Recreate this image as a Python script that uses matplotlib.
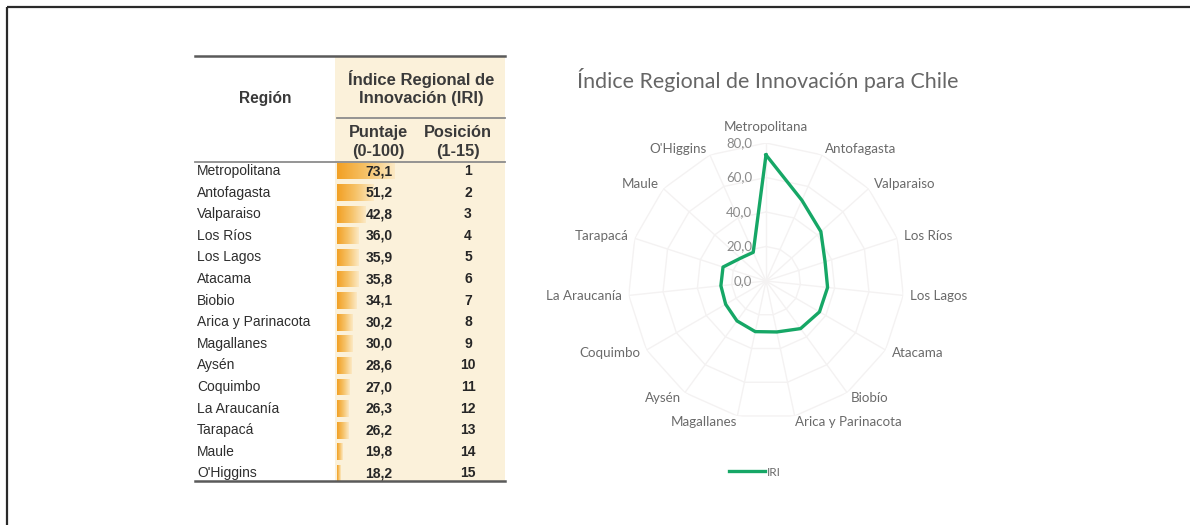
import numpy as np
import matplotlib
matplotlib.use("Agg")
import matplotlib.pyplot as plt
from matplotlib.transforms import ScaledTranslation
from matplotlib.colors import LinearSegmentedColormap

# ---------------- data ----------------
table_regions = ["Metropolitana", "Antofagasta", "Valparaiso", "Los Ríos", "Los Lagos",
                 "Atacama", "Biobio", "Arica y Parinacota", "Magallanes", "Aysén",
                 "Coquimbo", "La Araucanía", "Tarapacá", "Maule", "O'Higgins"]
chart_regions = ["Metropolitana", "Antofagasta", "Valparaiso", "Los Ríos", "Los Lagos",
                 "Atacama", "Biobío", "Arica y Parinacota", "Magallanes", "Aysén",
                 "Coquimbo", "La Araucanía", "Tarapacá", "Maule", "O'Higgins"]
puntaje = [73.1, 51.2, 42.8, 36.0, 35.9, 35.8, 34.1, 30.2, 30.0, 28.6, 27.0, 26.3, 26.2, 19.8, 18.2]
posicion = [1, 2, 3, 4, 5, 6, 7, 8, 9, 10, 11, 12, 13, 14, 15]
radial_ticks = [0, 20, 40, 60, 80]
radial_tick_labels = ["0,0", "20,0", "40,0", "60,0", "80,0"]
chart_title = "Índice Regional de Innovación para Chile"
series_name = "IRI"
hdr_region = "Región"
hdr_iri = "Índice Regional de\nInnovación (IRI)"
hdr_puntaje = "Puntaje\n(0-100)"
hdr_posicion = "Posición\n(1-15)"

W, H = 1190, 525
fig = plt.figure(figsize=(W / 100, H / 100), dpi=100)
fig.patch.set_facecolor("white")

# ---------------- table (pixel coordinate axes) ----------------
tax = fig.add_axes([0, 0, 1, 1])
tax.set_xlim(0, W)
tax.set_ylim(H, 0)
tax.axis("off")
tax.set_zorder(0)

# outer frame (top and left edges)
tax.plot([7, W], [7, 7], color="#2a2a2a", lw=1.6, solid_capstyle="butt")
tax.plot([7, 7], [7, H], color="#2a2a2a", lw=1.6, solid_capstyle="butt")

tab_l, tab_r = 195, 505
col_l = 335
cream = "#FBF1DA"
tax.add_patch(plt.Rectangle((col_l, 57), tab_r - col_l, 481 - 57, color=cream, lw=0, zorder=0))

# header lines
tax.plot([tab_l, tab_r], [56, 56], color="#5a5a5a", lw=1.8, zorder=3)
tax.plot([337, tab_r], [118, 118], color="#8c8c8c", lw=1.3, zorder=3)
tax.plot([tab_l, tab_r], [162, 162], color="#8c8c8c", lw=1.3, zorder=3)
tax.plot([tab_l, tab_r], [481, 481], color="#5a5a5a", lw=1.8, zorder=3)

tf = "Liberation Sans"
hc = "#3a3a3a"
tax.text(265, 99, hdr_region, ha="center", va="center", fontsize=11.2, fontweight="bold",
         family=tf, color=hc)
tax.text(421, 88, hdr_iri, ha="center", va="center", fontsize=12, fontweight="bold",
         family=tf, color=hc, linespacing=1.3)
tax.text(378, 142, hdr_puntaje, ha="center", va="center", fontsize=11.8, fontweight="bold",
         family=tf, color=hc, linespacing=1.32)
tax.text(458, 142, hdr_posicion, ha="center", va="center", fontsize=11.8, fontweight="bold",
         family=tf, color=hc, linespacing=1.32)

row_y = 171 + np.arange(len(table_regions)) * 21.6
vmin, vmax = min(puntaje), max(puntaje)
bar_len = [4 + (v - vmin) / (vmax - vmin) * 54 for v in puntaje]
bars = tax.barh(row_y, bar_len, left=337, height=17, color="none", lw=0, zorder=1)
cmap = LinearSegmentedColormap.from_list("db", ["#F2A024", "#F6C268", "#FCE9C4"])
grad = np.linspace(0, 1, 100).reshape(1, -1)
for b in bars:
    x0, y0 = b.get_x(), b.get_y()
    w, h = b.get_width(), b.get_height()
    im = tax.imshow(grad, cmap=cmap, aspect="auto", extent=[x0, x0 + w, y0 + h, y0],
                    zorder=1, interpolation="bilinear")
    im.set_clip_path(b)
tax.set_xlim(0, W)
tax.set_ylim(H, 0)

for y, name, v, p in zip(row_y, table_regions, puntaje, posicion):
    tax.text(197, y, name, ha="left", va="center", fontsize=10, family=tf, color="#2e2e2e")
    tax.text(379, y, f"{v:.1f}".replace(".", ","), ha="center", va="center", fontsize=10,
             fontweight="bold", family=tf, color="#262626", zorder=4)
    tax.text(468, y, str(p), ha="center", va="center", fontsize=10,
             fontweight="bold", family=tf, color="#262626", zorder=4)

# ---------------- radar chart ----------------
cx, cy, R = 766, 281, 138
ax = fig.add_axes([(cx - R) / W, (H - cy - R) / H, 2 * R / W, 2 * R / H], projection="polar")
ax.set_zorder(2)
ax.patch.set_alpha(0)
ax.set_theta_zero_location("N")
ax.set_theta_direction(-1)
ax.set_ylim(0, 80)
n = len(chart_regions)
theta = np.arange(n) * 2 * np.pi / n
ax.set_xticks(theta)
ax.set_xticklabels([])
ax.set_yticks(radial_ticks)
ax.set_yticklabels([])
ax.grid(False)
ax.spines["polar"].set_visible(False)

gc = "#f4f2f2"
tc = np.append(theta, theta[0])
for lvl in radial_ticks[1:]:
    ax.plot(tc, [lvl] * len(tc), color=gc, lw=1.0, zorder=1)
for t in theta:
    ax.plot([t, t], [0, 80], color=gc, lw=1.0, zorder=1)

vals = np.append(puntaje, puntaje[0])
line, = ax.plot(tc, vals, color="#16A766", lw=2.4, zorder=3, label=series_name)

lf = "Lato"
lc = "#6a6a6a"
off = ScaledTranslation(-14 / 100, 0, fig.dpi_scale_trans)
for v, lab in zip(radial_ticks, radial_tick_labels):
    ax.text(0, v, lab, transform=ax.transData + off, ha="right", va="center",
            fontsize=9.5, family=lf, color="#8a8a8a")

for t, name in zip(theta, chart_regions):
    s, c = np.sin(t), np.cos(t)
    ha = "left" if s > 0.1 else ("right" if s < -0.1 else "center")
    if c > 0.95 and abs(s) < 0.1:
        va, r = "bottom", 86
    elif c < -0.95:
        va, r = "top", 80
    else:
        va, r = "center", 84
    ax.text(t, r, name, ha=ha, va=va, fontsize=9.6, family=lf, color=lc, clip_on=False)

fig.text(768 / W, 1 - 80 / H, chart_title, ha="center", va="center", fontsize=15.4,
         family=lf, color="#666666")

fig.legend(handles=[line], loc="center", bbox_to_anchor=(755 / W, 1 - 472 / H),
           frameon=False, handlelength=3.0, handletextpad=0.2,
           prop={"family": lf, "size": 8.5}, labelcolor="#6a6a6a")

fig.savefig("out.png", dpi=100, facecolor="white")
